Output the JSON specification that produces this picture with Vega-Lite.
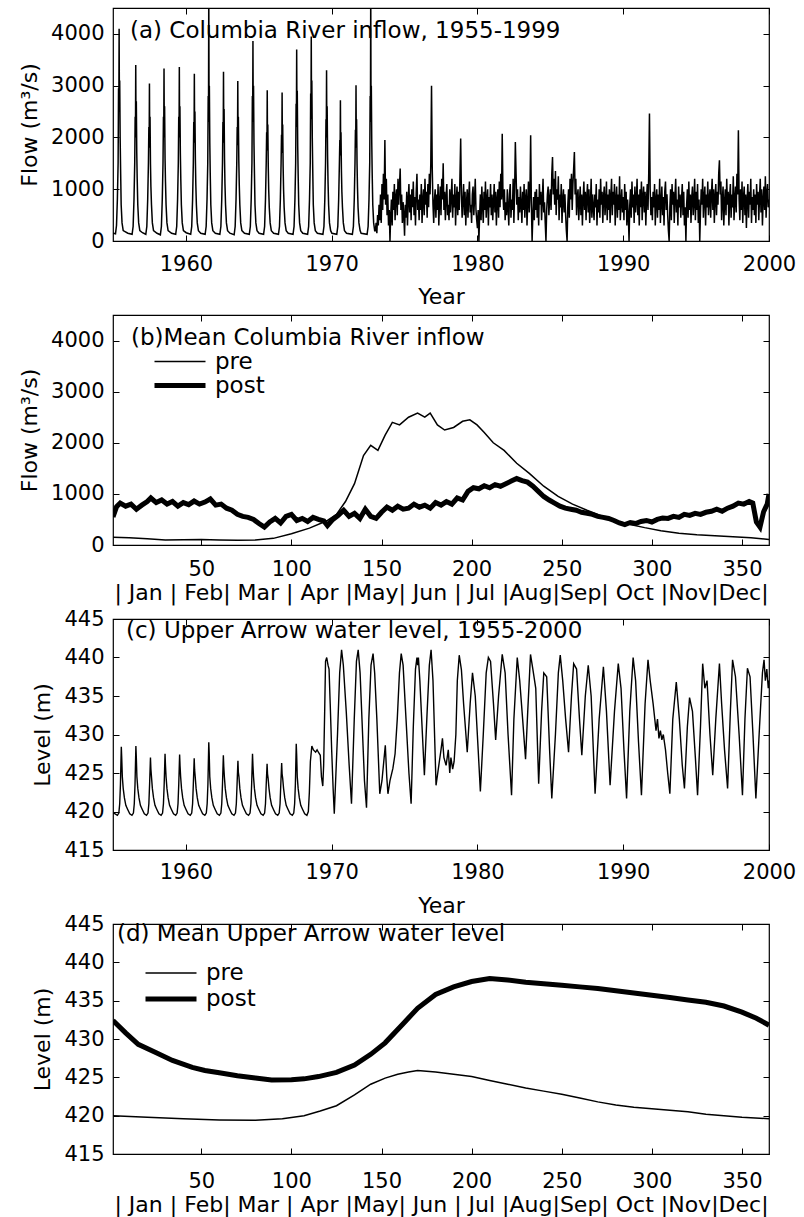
{
"$schema": "https://vega.github.io/schema/vega-lite/v6.json",
"background": "white",
"padding": {"left": 17, "top": 6, "right": 10, "bottom": 5},
"bounds": "flush",
"spacing": 74,
"resolve": {"legend": {"strokeWidth": "independent"}, "scale": {"strokeWidth": "independent"}},
"config": {
  "font": "DejaVu Sans",
  "view": {"stroke": "black", "strokeWidth": 1.2},
  "axis": {"domain": false, "grid": false, "ticks": true, "tickSize": -6, "tickColor": "black", "tickWidth": 1, "labelFont": "DejaVu Sans", "labelFontSize": 21, "labelColor": "black", "labelFlush": false, "labelOverlap": false, "labelBound": false, "titleFont": "DejaVu Sans", "titleFontSize": 22, "titleFontWeight": "normal", "titleColor": "black"},
  "axisY": {"labelPadding": 15, "titlePadding": 9},
  "axisX": {"labelPadding": 21},
  "title": {"anchor": "start", "frame": "group", "font": "DejaVu Sans", "fontSize": 23, "fontWeight": "normal", "color": "black"},
  "legend": {"orient": "none", "title": null, "symbolType": "stroke", "symbolSize": 2601, "symbolStrokeColor": "black", "labelFont": "DejaVu Sans", "labelFontSize": 23, "labelColor": "black", "labelOffset": 7, "padding": 0, "rowPadding": 0}
},
"datasets": {
"a": [
{"t":1955.00,"q":150},{"t":1955.17,"q":140},{"t":1955.24,"q":300},{"t":1955.30,"q":800},{"t":1955.35,"q":1500},{"t":1955.38,"q":2950},{"t":1955.40,"q":2500},{"t":1955.42,"q":4100},{"t":1955.44,"q":2600},{"t":1955.46,"q":3100},{"t":1955.49,"q":2000},{"t":1955.52,"q":1400},{"t":1955.56,"q":700},{"t":1955.62,"q":350},{"t":1955.70,"q":200},
{"t":1956.02,"q":150},{"t":1956.31,"q":130},{"t":1956.38,"q":280},{"t":1956.44,"q":800},{"t":1956.49,"q":1500},{"t":1956.52,"q":2400},{"t":1956.54,"q":2000},{"t":1956.56,"q":3400},{"t":1956.58,"q":2100},{"t":1956.60,"q":2700},{"t":1956.63,"q":1700},{"t":1956.66,"q":1200},{"t":1956.70,"q":700},{"t":1956.76,"q":350},{"t":1956.84,"q":200},
{"t":1957.02,"q":160},{"t":1957.25,"q":130},{"t":1957.32,"q":280},{"t":1957.38,"q":800},{"t":1957.43,"q":1500},{"t":1957.46,"q":2200},{"t":1957.48,"q":1800},{"t":1957.50,"q":3040},{"t":1957.52,"q":1900},{"t":1957.54,"q":2400},{"t":1957.57,"q":1500},{"t":1957.60,"q":1050},{"t":1957.64,"q":700},{"t":1957.70,"q":350},{"t":1957.78,"q":200},
{"t":1958.02,"q":150},{"t":1958.25,"q":120},{"t":1958.32,"q":280},{"t":1958.38,"q":800},{"t":1958.43,"q":1500},{"t":1958.46,"q":2400},{"t":1958.48,"q":2000},{"t":1958.50,"q":3330},{"t":1958.52,"q":2000},{"t":1958.54,"q":2600},{"t":1958.57,"q":1600},{"t":1958.60,"q":1150},{"t":1958.64,"q":700},{"t":1958.70,"q":350},{"t":1958.78,"q":200},
{"t":1959.02,"q":150},{"t":1959.30,"q":130},{"t":1959.37,"q":280},{"t":1959.43,"q":800},{"t":1959.48,"q":1500},{"t":1959.51,"q":2400},{"t":1959.53,"q":2000},{"t":1959.55,"q":3360},{"t":1959.57,"q":2100},{"t":1959.59,"q":2600},{"t":1959.62,"q":1700},{"t":1959.65,"q":1200},{"t":1959.69,"q":700},{"t":1959.75,"q":350},{"t":1959.83,"q":200},
{"t":1960.02,"q":160},{"t":1960.33,"q":130},{"t":1960.40,"q":280},{"t":1960.46,"q":800},{"t":1960.51,"q":1500},{"t":1960.54,"q":2300},{"t":1960.56,"q":1900},{"t":1960.58,"q":3230},{"t":1960.60,"q":2000},{"t":1960.62,"q":2500},{"t":1960.65,"q":1600},{"t":1960.68,"q":1100},{"t":1960.72,"q":700},{"t":1960.78,"q":350},{"t":1960.86,"q":200},
{"t":1961.02,"q":150},{"t":1961.32,"q":130},{"t":1961.39,"q":280},{"t":1961.45,"q":800},{"t":1961.50,"q":1500},{"t":1961.53,"q":2800},{"t":1961.55,"q":2300},{"t":1961.57,"q":4900},{"t":1961.59,"q":2600},{"t":1961.61,"q":3000},{"t":1961.64,"q":1900},{"t":1961.67,"q":1300},{"t":1961.71,"q":700},{"t":1961.77,"q":350},{"t":1961.85,"q":200},
{"t":1962.02,"q":150},{"t":1962.33,"q":130},{"t":1962.40,"q":280},{"t":1962.46,"q":800},{"t":1962.51,"q":1500},{"t":1962.54,"q":2300},{"t":1962.56,"q":1900},{"t":1962.58,"q":3270},{"t":1962.60,"q":2000},{"t":1962.62,"q":2550},{"t":1962.65,"q":1600},{"t":1962.68,"q":1100},{"t":1962.72,"q":700},{"t":1962.78,"q":350},{"t":1962.86,"q":200},
{"t":1963.02,"q":150},{"t":1963.31,"q":120},{"t":1963.38,"q":280},{"t":1963.44,"q":800},{"t":1963.49,"q":1500},{"t":1963.52,"q":2200},{"t":1963.54,"q":1850},{"t":1963.56,"q":3090},{"t":1963.58,"q":1900},{"t":1963.60,"q":2400},{"t":1963.63,"q":1550},{"t":1963.66,"q":1100},{"t":1963.70,"q":700},{"t":1963.76,"q":350},{"t":1963.84,"q":200},
{"t":1964.02,"q":150},{"t":1964.35,"q":130},{"t":1964.42,"q":280},{"t":1964.48,"q":800},{"t":1964.53,"q":1500},{"t":1964.56,"q":2800},{"t":1964.58,"q":2300},{"t":1964.60,"q":3865},{"t":1964.62,"q":2400},{"t":1964.64,"q":3000},{"t":1964.67,"q":1900},{"t":1964.70,"q":1350},{"t":1964.74,"q":700},{"t":1964.80,"q":350},{"t":1964.88,"q":200},
{"t":1965.02,"q":150},{"t":1965.33,"q":130},{"t":1965.40,"q":280},{"t":1965.46,"q":800},{"t":1965.51,"q":1500},{"t":1965.54,"q":2100},{"t":1965.56,"q":1750},{"t":1965.58,"q":2910},{"t":1965.60,"q":1800},{"t":1965.62,"q":2250},{"t":1965.65,"q":1450},{"t":1965.68,"q":1000},{"t":1965.72,"q":650},{"t":1965.78,"q":350},{"t":1965.86,"q":200},
{"t":1966.02,"q":150},{"t":1966.35,"q":130},{"t":1966.42,"q":280},{"t":1966.48,"q":800},{"t":1966.53,"q":1500},{"t":1966.56,"q":2050},{"t":1966.58,"q":1700},{"t":1966.60,"q":2870},{"t":1966.62,"q":1800},{"t":1966.64,"q":2250},{"t":1966.67,"q":1450},{"t":1966.70,"q":1000},{"t":1966.74,"q":650},{"t":1966.80,"q":350},{"t":1966.88,"q":200},
{"t":1967.02,"q":150},{"t":1967.35,"q":130},{"t":1967.42,"q":280},{"t":1967.48,"q":800},{"t":1967.53,"q":1500},{"t":1967.56,"q":2650},{"t":1967.58,"q":2200},{"t":1967.60,"q":3700},{"t":1967.62,"q":2300},{"t":1967.64,"q":2900},{"t":1967.67,"q":1850},{"t":1967.70,"q":1300},{"t":1967.74,"q":700},{"t":1967.80,"q":350},{"t":1967.88,"q":200},
{"t":1968.02,"q":150},{"t":1968.35,"q":130},{"t":1968.42,"q":280},{"t":1968.48,"q":800},{"t":1968.53,"q":1500},{"t":1968.56,"q":2850},{"t":1968.58,"q":2350},{"t":1968.60,"q":3950},{"t":1968.62,"q":2450},{"t":1968.64,"q":3100},{"t":1968.67,"q":2000},{"t":1968.70,"q":1400},{"t":1968.74,"q":700},{"t":1968.80,"q":350},{"t":1968.88,"q":200},
{"t":1969.02,"q":150},{"t":1969.40,"q":130},{"t":1969.47,"q":280},{"t":1969.53,"q":800},{"t":1969.58,"q":1500},{"t":1969.61,"q":2350},{"t":1969.63,"q":2000},{"t":1969.65,"q":3300},{"t":1969.67,"q":2050},{"t":1969.69,"q":2600},{"t":1969.72,"q":1650},{"t":1969.75,"q":1150},{"t":1969.79,"q":700},{"t":1969.85,"q":350},{"t":1969.93,"q":200},
{"t":1970.02,"q":150},{"t":1970.35,"q":130},{"t":1970.42,"q":280},{"t":1970.48,"q":800},{"t":1970.53,"q":1500},{"t":1970.56,"q":1950},{"t":1970.58,"q":1650},{"t":1970.60,"q":2720},{"t":1970.62,"q":1700},{"t":1970.64,"q":2100},{"t":1970.67,"q":1350},{"t":1970.70,"q":950},{"t":1970.74,"q":650},{"t":1970.80,"q":350},{"t":1970.88,"q":200},
{"t":1971.02,"q":150},{"t":1971.42,"q":130},{"t":1971.49,"q":280},{"t":1971.55,"q":800},{"t":1971.60,"q":1500},{"t":1971.63,"q":2150},{"t":1971.65,"q":1800},{"t":1971.67,"q":3010},{"t":1971.69,"q":1850},{"t":1971.71,"q":2350},{"t":1971.74,"q":1500},{"t":1971.77,"q":1050},{"t":1971.81,"q":650},{"t":1971.87,"q":350},{"t":1971.95,"q":200},
{"t":1972.02,"q":150},{"t":1972.43,"q":130},{"t":1972.50,"q":280},{"t":1972.56,"q":800},{"t":1972.61,"q":1500},{"t":1972.64,"q":2800},{"t":1972.66,"q":2300},{"t":1972.68,"q":4900},{"t":1972.70,"q":2600},{"t":1972.72,"q":3000},{"t":1972.75,"q":1900},{"t":1972.78,"q":1300},{"t":1972.82,"q":700},{"t":1972.88,"q":350},{"t":1972.95,"q":200},
{"t":1973.00,"q":200},{"t":1973.05,"q":350},{"t":1973.10,"q":150},{"t":1973.15,"q":500},{"t":1973.20,"q":300},{"t":1973.25,"q":700},{"t":1973.30,"q":400},{"t":1973.35,"q":900},{"t":1973.40,"q":350},{"t":1973.45,"q":1100},{"t":1973.50,"q":600},{"t":1973.55,"q":1300},{"t":1973.60,"q":800},{"t":1973.65,"q":1950},{"t":1973.70,"q":700},{"t":1973.75,"q":1200},{"t":1973.80,"q":500},{"t":1973.85,"q":900},{"t":1973.90,"q":300},{"t":1973.95,"q":600},
{"t":1974.00,"q":0},{"t":1974.05,"q":500},{"t":1974.10,"q":800},{"t":1974.15,"q":300},{"t":1974.20,"q":950},{"t":1974.25,"q":600},{"t":1974.30,"q":1100},{"t":1974.35,"q":400},{"t":1974.40,"q":850},{"t":1974.45,"q":1000},{"t":1974.50,"q":500},{"t":1974.55,"q":1200},{"t":1974.60,"q":700},{"t":1974.65,"q":1050},{"t":1974.70,"q":1400},{"t":1974.75,"q":600},{"t":1974.80,"q":900},{"t":1974.85,"q":350},{"t":1974.90,"q":750},{"t":1974.95,"q":500},
{"t":1975.00,"q":100},{"t":1975.05,"q":700},{"t":1975.10,"q":450},{"t":1975.15,"q":950},{"t":1975.20,"q":300},{"t":1975.25,"q":800},{"t":1975.30,"q":1100},{"t":1975.35,"q":550},{"t":1975.40,"q":900},{"t":1975.45,"q":400},{"t":1975.50,"q":1000},{"t":1975.55,"q":650},{"t":1975.60,"q":1150},{"t":1975.65,"q":500},{"t":1975.70,"q":850},{"t":1975.75,"q":300},{"t":1975.80,"q":950},{"t":1975.85,"q":1300},{"t":1975.90,"q":600},{"t":1975.95,"q":800},
{"t":1976.00,"q":400},{"t":1976.05,"q":900},{"t":1976.10,"q":600},{"t":1976.15,"q":1100},{"t":1976.20,"q":350},{"t":1976.25,"q":800},{"t":1976.30,"q":1000},{"t":1976.35,"q":500},{"t":1976.40,"q":1200},{"t":1976.45,"q":700},{"t":1976.50,"q":950},{"t":1976.55,"q":450},{"t":1976.60,"q":1100},{"t":1976.65,"q":650},{"t":1976.70,"q":1300},{"t":1976.75,"q":900},{"t":1976.80,"q":1500},{"t":1976.85,"q":3000},{"t":1976.90,"q":1400},{"t":1976.95,"q":700},
{"t":1977.00,"q":350},{"t":1977.05,"q":800},{"t":1977.10,"q":1000},{"t":1977.15,"q":450},{"t":1977.20,"q":900},{"t":1977.25,"q":600},{"t":1977.30,"q":1100},{"t":1977.35,"q":300},{"t":1977.40,"q":750},{"t":1977.45,"q":1050},{"t":1977.50,"q":500},{"t":1977.55,"q":1200},{"t":1977.60,"q":800},{"t":1977.65,"q":1500},{"t":1977.70,"q":600},{"t":1977.75,"q":950},{"t":1977.80,"q":400},{"t":1977.85,"q":850},{"t":1977.90,"q":1100},{"t":1977.95,"q":500},
{"t":1978.00,"q":700},{"t":1978.05,"q":400},{"t":1978.10,"q":1000},{"t":1978.15,"q":550},{"t":1978.20,"q":850},{"t":1978.25,"q":1200},{"t":1978.30,"q":450},{"t":1978.35,"q":900},{"t":1978.40,"q":650},{"t":1978.45,"q":1100},{"t":1978.50,"q":300},{"t":1978.55,"q":800},{"t":1978.60,"q":1050},{"t":1978.65,"q":500},{"t":1978.70,"q":950},{"t":1978.75,"q":600},{"t":1978.80,"q":1250},{"t":1978.85,"q":1980},{"t":1978.90,"q":900},{"t":1978.95,"q":450},
{"t":1979.00,"q":800},{"t":1979.05,"q":1100},{"t":1979.10,"q":500},{"t":1979.15,"q":950},{"t":1979.20,"q":300},{"t":1979.25,"q":750},{"t":1979.30,"q":1000},{"t":1979.35,"q":450},{"t":1979.40,"q":850},{"t":1979.45,"q":1150},{"t":1979.50,"q":550},{"t":1979.55,"q":700},{"t":1979.60,"q":350},{"t":1979.65,"q":900},{"t":1979.70,"q":1050},{"t":1979.75,"q":500},{"t":1979.80,"q":800},{"t":1979.85,"q":1200},{"t":1979.90,"q":600},{"t":1979.95,"q":400},
{"t":1980.00,"q":250},{"t":1980.05,"q":600},{"t":1980.10,"q":0},{"t":1980.15,"q":500},{"t":1980.20,"q":900},{"t":1980.25,"q":400},{"t":1980.30,"q":1050},{"t":1980.35,"q":700},{"t":1980.40,"q":350},{"t":1980.45,"q":950},{"t":1980.50,"q":600},{"t":1980.55,"q":1150},{"t":1980.60,"q":450},{"t":1980.65,"q":800},{"t":1980.70,"q":1000},{"t":1980.75,"q":300},{"t":1980.80,"q":850},{"t":1980.85,"q":650},{"t":1980.90,"q":1100},{"t":1980.95,"q":500},
{"t":1981.00,"q":900},{"t":1981.05,"q":400},{"t":1981.10,"q":750},{"t":1981.15,"q":1100},{"t":1981.20,"q":550},{"t":1981.25,"q":950},{"t":1981.30,"q":300},{"t":1981.35,"q":800},{"t":1981.40,"q":1000},{"t":1981.45,"q":450},{"t":1981.50,"q":1150},{"t":1981.55,"q":650},{"t":1981.60,"q":1300},{"t":1981.65,"q":800},{"t":1981.70,"q":2070},{"t":1981.75,"q":900},{"t":1981.80,"q":600},{"t":1981.85,"q":1000},{"t":1981.90,"q":400},{"t":1981.95,"q":750},
{"t":1982.00,"q":500},{"t":1982.05,"q":1000},{"t":1982.10,"q":650},{"t":1982.15,"q":300},{"t":1982.20,"q":900},{"t":1982.25,"q":1100},{"t":1982.30,"q":450},{"t":1982.35,"q":800},{"t":1982.40,"q":600},{"t":1982.45,"q":1200},{"t":1982.50,"q":350},{"t":1982.55,"q":950},{"t":1982.60,"q":1910},{"t":1982.65,"q":1300},{"t":1982.70,"q":700},{"t":1982.75,"q":1000},{"t":1982.80,"q":400},{"t":1982.85,"q":850},{"t":1982.90,"q":550},{"t":1982.95,"q":1050},
{"t":1983.00,"q":700},{"t":1983.05,"q":350},{"t":1983.10,"q":950},{"t":1983.15,"q":600},{"t":1983.20,"q":1100},{"t":1983.25,"q":450},{"t":1983.30,"q":800},{"t":1983.35,"q":1000},{"t":1983.40,"q":300},{"t":1983.45,"q":750},{"t":1983.50,"q":1150},{"t":1983.55,"q":550},{"t":1983.60,"q":900},{"t":1983.65,"q":2040},{"t":1983.70,"q":700},{"t":1983.75,"q":0},{"t":1983.80,"q":500},{"t":1983.85,"q":850},{"t":1983.90,"q":400},{"t":1983.95,"q":950},
{"t":1984.00,"q":600},{"t":1984.05,"q":1000},{"t":1984.10,"q":450},{"t":1984.15,"q":850},{"t":1984.20,"q":300},{"t":1984.25,"q":1100},{"t":1984.30,"q":700},{"t":1984.35,"q":950},{"t":1984.40,"q":400},{"t":1984.45,"q":800},{"t":1984.50,"q":1200},{"t":1984.55,"q":550},{"t":1984.60,"q":750},{"t":1984.65,"q":350},{"t":1984.70,"q":0},{"t":1984.75,"q":600},{"t":1984.80,"q":900},{"t":1984.85,"q":1050},{"t":1984.90,"q":500},{"t":1984.95,"q":800},
{"t":1985.00,"q":1000},{"t":1985.05,"q":600},{"t":1985.10,"q":1300},{"t":1985.15,"q":1620},{"t":1985.20,"q":900},{"t":1985.25,"q":1200},{"t":1985.30,"q":700},{"t":1985.35,"q":1350},{"t":1985.40,"q":500},{"t":1985.45,"q":1000},{"t":1985.50,"q":800},{"t":1985.55,"q":1250},{"t":1985.60,"q":400},{"t":1985.65,"q":900},{"t":1985.70,"q":650},{"t":1985.75,"q":1100},{"t":1985.80,"q":350},{"t":1985.85,"q":800},{"t":1985.90,"q":1000},{"t":1985.95,"q":550},
{"t":1986.00,"q":900},{"t":1986.05,"q":500},{"t":1986.10,"q":200},{"t":1986.15,"q":0},{"t":1986.20,"q":700},{"t":1986.25,"q":1000},{"t":1986.30,"q":450},{"t":1986.35,"q":1200},{"t":1986.40,"q":800},{"t":1986.45,"q":1300},{"t":1986.50,"q":600},{"t":1986.55,"q":1100},{"t":1986.60,"q":1400},{"t":1986.65,"q":1720},{"t":1986.70,"q":900},{"t":1986.75,"q":1200},{"t":1986.80,"q":500},{"t":1986.85,"q":850},{"t":1986.90,"q":1000},{"t":1986.95,"q":400},
{"t":1987.00,"q":750},{"t":1987.05,"q":1050},{"t":1987.10,"q":500},{"t":1987.15,"q":900},{"t":1987.20,"q":300},{"t":1987.25,"q":800},{"t":1987.30,"q":1150},{"t":1987.35,"q":600},{"t":1987.40,"q":950},{"t":1987.45,"q":400},{"t":1987.50,"q":850},{"t":1987.55,"q":1100},{"t":1987.60,"q":550},{"t":1987.65,"q":1000},{"t":1987.70,"q":350},{"t":1987.75,"q":700},{"t":1987.80,"q":1200},{"t":1987.85,"q":450},{"t":1987.90,"q":900},{"t":1987.95,"q":650},
{"t":1988.00,"q":400},{"t":1988.05,"q":900},{"t":1988.10,"q":650},{"t":1988.15,"q":1100},{"t":1988.20,"q":300},{"t":1988.25,"q":800},{"t":1988.30,"q":550},{"t":1988.35,"q":1000},{"t":1988.40,"q":450},{"t":1988.45,"q":1200},{"t":1988.50,"q":700},{"t":1988.55,"q":950},{"t":1988.60,"q":350},{"t":1988.65,"q":850},{"t":1988.70,"q":1050},{"t":1988.75,"q":500},{"t":1988.80,"q":750},{"t":1988.85,"q":1150},{"t":1988.90,"q":400},{"t":1988.95,"q":900},
{"t":1989.00,"q":600},{"t":1989.05,"q":1000},{"t":1989.10,"q":350},{"t":1989.15,"q":850},{"t":1989.20,"q":1200},{"t":1989.25,"q":500},{"t":1989.30,"q":950},{"t":1989.35,"q":700},{"t":1989.40,"q":1100},{"t":1989.45,"q":300},{"t":1989.50,"q":800},{"t":1989.55,"q":1050},{"t":1989.60,"q":450},{"t":1989.65,"q":900},{"t":1989.70,"q":600},{"t":1989.75,"q":1250},{"t":1989.80,"q":400},{"t":1989.85,"q":750},{"t":1989.90,"q":1000},{"t":1989.95,"q":550},
{"t":1990.00,"q":850},{"t":1990.05,"q":400},{"t":1990.10,"q":1100},{"t":1990.15,"q":600},{"t":1990.20,"q":950},{"t":1990.25,"q":300},{"t":1990.30,"q":800},{"t":1990.35,"q":500},{"t":1990.40,"q":0},{"t":1990.45,"q":700},{"t":1990.50,"q":1000},{"t":1990.55,"q":450},{"t":1990.60,"q":1150},{"t":1990.65,"q":650},{"t":1990.70,"q":900},{"t":1990.75,"q":350},{"t":1990.80,"q":1050},{"t":1990.85,"q":550},{"t":1990.90,"q":800},{"t":1990.95,"q":1200},
{"t":1991.00,"q":500},{"t":1991.05,"q":900},{"t":1991.10,"q":300},{"t":1991.15,"q":1000},{"t":1991.20,"q":650},{"t":1991.25,"q":1150},{"t":1991.30,"q":400},{"t":1991.35,"q":850},{"t":1991.40,"q":1050},{"t":1991.45,"q":550},{"t":1991.50,"q":950},{"t":1991.55,"q":300},{"t":1991.60,"q":800},{"t":1991.65,"q":1100},{"t":1991.70,"q":600},{"t":1991.75,"q":1300},{"t":1991.80,"q":2460},{"t":1991.85,"q":1000},{"t":1991.90,"q":500},{"t":1991.95,"q":850},
{"t":1992.00,"q":400},{"t":1992.05,"q":950},{"t":1992.10,"q":650},{"t":1992.15,"q":1100},{"t":1992.20,"q":300},{"t":1992.25,"q":800},{"t":1992.30,"q":1000},{"t":1992.35,"q":450},{"t":1992.40,"q":900},{"t":1992.45,"q":600},{"t":1992.50,"q":1200},{"t":1992.55,"q":350},{"t":1992.60,"q":750},{"t":1992.65,"q":1050},{"t":1992.70,"q":500},{"t":1992.75,"q":850},{"t":1992.80,"q":300},{"t":1992.85,"q":950},{"t":1992.90,"q":1150},{"t":1992.95,"q":600},
{"t":1993.00,"q":900},{"t":1993.05,"q":500},{"t":1993.10,"q":200},{"t":1993.15,"q":0},{"t":1993.20,"q":650},{"t":1993.25,"q":1000},{"t":1993.30,"q":400},{"t":1993.35,"q":1100},{"t":1993.40,"q":700},{"t":1993.45,"q":950},{"t":1993.50,"q":350},{"t":1993.55,"q":850},{"t":1993.60,"q":1200},{"t":1993.65,"q":550},{"t":1993.70,"q":800},{"t":1993.75,"q":300},{"t":1993.80,"q":1050},{"t":1993.85,"q":650},{"t":1993.90,"q":900},{"t":1993.95,"q":450},
{"t":1994.00,"q":800},{"t":1994.05,"q":1100},{"t":1994.10,"q":500},{"t":1994.15,"q":950},{"t":1994.20,"q":300},{"t":1994.25,"q":650},{"t":1994.30,"q":0},{"t":1994.35,"q":700},{"t":1994.40,"q":1000},{"t":1994.45,"q":450},{"t":1994.50,"q":1150},{"t":1994.55,"q":600},{"t":1994.60,"q":900},{"t":1994.65,"q":350},{"t":1994.70,"q":850},{"t":1994.75,"q":1050},{"t":1994.80,"q":500},{"t":1994.85,"q":750},{"t":1994.90,"q":1200},{"t":1994.95,"q":400},
{"t":1995.00,"q":950},{"t":1995.05,"q":600},{"t":1995.10,"q":1100},{"t":1995.15,"q":350},{"t":1995.20,"q":800},{"t":1995.25,"q":0},{"t":1995.30,"q":550},{"t":1995.35,"q":1000},{"t":1995.40,"q":700},{"t":1995.45,"q":1200},{"t":1995.50,"q":450},{"t":1995.55,"q":850},{"t":1995.60,"q":1050},{"t":1995.65,"q":300},{"t":1995.70,"q":900},{"t":1995.75,"q":650},{"t":1995.80,"q":1150},{"t":1995.85,"q":500},{"t":1995.90,"q":800},{"t":1995.95,"q":1000},
{"t":1996.00,"q":450},{"t":1996.05,"q":900},{"t":1996.10,"q":1200},{"t":1996.15,"q":600},{"t":1996.20,"q":1000},{"t":1996.25,"q":350},{"t":1996.30,"q":850},{"t":1996.35,"q":1100},{"t":1996.40,"q":500},{"t":1996.45,"q":950},{"t":1996.50,"q":700},{"t":1996.55,"q":1300},{"t":1996.60,"q":1560},{"t":1996.65,"q":900},{"t":1996.70,"q":1150},{"t":1996.75,"q":400},{"t":1996.80,"q":800},{"t":1996.85,"q":1050},{"t":1996.90,"q":300},{"t":1996.95,"q":750},
{"t":1997.00,"q":1000},{"t":1997.05,"q":500},{"t":1997.10,"q":1200},{"t":1997.15,"q":700},{"t":1997.20,"q":950},{"t":1997.25,"q":300},{"t":1997.30,"q":850},{"t":1997.35,"q":1100},{"t":1997.40,"q":450},{"t":1997.45,"q":900},{"t":1997.50,"q":650},{"t":1997.55,"q":1250},{"t":1997.60,"q":400},{"t":1997.65,"q":800},{"t":1997.70,"q":1050},{"t":1997.75,"q":550},{"t":1997.80,"q":1300},{"t":1997.85,"q":900},{"t":1997.90,"q":2140},{"t":1997.95,"q":800},
{"t":1998.00,"q":400},{"t":1998.05,"q":1000},{"t":1998.10,"q":600},{"t":1998.15,"q":1150},{"t":1998.20,"q":350},{"t":1998.25,"q":850},{"t":1998.30,"q":1050},{"t":1998.35,"q":500},{"t":1998.40,"q":900},{"t":1998.45,"q":250},{"t":1998.50,"q":800},{"t":1998.55,"q":1100},{"t":1998.60,"q":450},{"t":1998.65,"q":950},{"t":1998.70,"q":700},{"t":1998.75,"q":1200},{"t":1998.80,"q":350},{"t":1998.85,"q":850},{"t":1998.90,"q":600},{"t":1998.95,"q":1000},
{"t":1999.00,"q":500},{"t":1999.05,"q":900},{"t":1999.10,"q":350},{"t":1999.15,"q":1100},{"t":1999.20,"q":700},{"t":1999.25,"q":950},{"t":1999.30,"q":400},{"t":1999.35,"q":850},{"t":1999.40,"q":1200},{"t":1999.45,"q":550},{"t":1999.50,"q":1000},{"t":1999.55,"q":300},{"t":1999.60,"q":800},{"t":1999.65,"q":1050},{"t":1999.70,"q":600},{"t":1999.75,"q":1250},{"t":1999.80,"q":450},{"t":1999.85,"q":900},{"t":1999.90,"q":1100},{"t":1999.95,"q":650},
{"t":2000.00,"q":800}
],
"b": [
{"d":1,"q":150,"s":"pre"},{"d":10,"q":140,"s":"pre"},{"d":20,"q":120,"s":"pre"},{"d":30,"q":100,"s":"pre"},{"d":40,"q":105,"s":"pre"},{"d":50,"q":110,"s":"pre"},{"d":60,"q":100,"s":"pre"},{"d":70,"q":95,"s":"pre"},{"d":80,"q":100,"s":"pre"},{"d":90,"q":130,"s":"pre"},{"d":100,"q":220,"s":"pre"},{"d":110,"q":330,"s":"pre"},{"d":120,"q":480,"s":"pre"},{"d":125,"q":600,"s":"pre"},{"d":130,"q":850,"s":"pre"},{"d":135,"q":1200,"s":"pre"},{"d":140,"q":1750,"s":"pre"},{"d":144,"q":1950,"s":"pre"},{"d":148,"q":1850,"s":"pre"},{"d":152,"q":2150,"s":"pre"},{"d":156,"q":2400,"s":"pre"},{"d":160,"q":2350,"s":"pre"},{"d":165,"q":2500,"s":"pre"},{"d":170,"q":2580,"s":"pre"},{"d":174,"q":2500,"s":"pre"},{"d":177,"q":2580,"s":"pre"},{"d":181,"q":2350,"s":"pre"},{"d":185,"q":2250,"s":"pre"},{"d":190,"q":2300,"s":"pre"},{"d":195,"q":2420,"s":"pre"},{"d":199,"q":2450,"s":"pre"},{"d":203,"q":2350,"s":"pre"},{"d":207,"q":2200,"s":"pre"},{"d":212,"q":2000,"s":"pre"},{"d":218,"q":1850,"s":"pre"},{"d":225,"q":1600,"s":"pre"},{"d":232,"q":1400,"s":"pre"},{"d":240,"q":1150,"s":"pre"},{"d":248,"q":950,"s":"pre"},{"d":256,"q":800,"s":"pre"},{"d":264,"q":680,"s":"pre"},{"d":272,"q":570,"s":"pre"},{"d":280,"q":470,"s":"pre"},{"d":288,"q":400,"s":"pre"},{"d":296,"q":340,"s":"pre"},{"d":305,"q":280,"s":"pre"},{"d":315,"q":230,"s":"pre"},{"d":325,"q":200,"s":"pre"},{"d":335,"q":180,"s":"pre"},{"d":345,"q":160,"s":"pre"},{"d":355,"q":140,"s":"pre"},{"d":365,"q":110,"s":"pre"},
{"d":1,"q":550,"s":"post"},{"d":3,"q":750,"s":"post"},{"d":5,"q":820,"s":"post"},{"d":8,"q":760,"s":"post"},{"d":11,"q":800,"s":"post"},{"d":14,"q":700,"s":"post"},{"d":17,"q":780,"s":"post"},{"d":20,"q":850,"s":"post"},{"d":22,"q":920,"s":"post"},{"d":25,"q":830,"s":"post"},{"d":28,"q":880,"s":"post"},{"d":31,"q":800,"s":"post"},{"d":34,"q":850,"s":"post"},{"d":37,"q":760,"s":"post"},{"d":40,"q":830,"s":"post"},{"d":43,"q":790,"s":"post"},{"d":46,"q":860,"s":"post"},{"d":49,"q":800,"s":"post"},{"d":52,"q":840,"s":"post"},{"d":55,"q":900,"s":"post"},{"d":58,"q":780,"s":"post"},{"d":61,"q":800,"s":"post"},{"d":64,"q":720,"s":"post"},{"d":67,"q":680,"s":"post"},{"d":70,"q":600,"s":"post"},{"d":73,"q":560,"s":"post"},{"d":76,"q":540,"s":"post"},{"d":79,"q":500,"s":"post"},{"d":82,"q":420,"s":"post"},{"d":85,"q":350,"s":"post"},{"d":88,"q":450,"s":"post"},{"d":91,"q":520,"s":"post"},{"d":94,"q":430,"s":"post"},{"d":97,"q":560,"s":"post"},{"d":100,"q":600,"s":"post"},{"d":103,"q":480,"s":"post"},{"d":106,"q":520,"s":"post"},{"d":109,"q":460,"s":"post"},{"d":112,"q":540,"s":"post"},{"d":115,"q":500,"s":"post"},{"d":118,"q":470,"s":"post"},{"d":120,"q":380,"s":"post"},{"d":123,"q":500,"s":"post"},{"d":126,"q":580,"s":"post"},{"d":129,"q":680,"s":"post"},{"d":132,"q":560,"s":"post"},{"d":135,"q":620,"s":"post"},{"d":138,"q":520,"s":"post"},{"d":141,"q":700,"s":"post"},{"d":144,"q":560,"s":"post"},{"d":147,"q":520,"s":"post"},{"d":150,"q":640,"s":"post"},{"d":153,"q":740,"s":"post"},{"d":156,"q":680,"s":"post"},{"d":159,"q":760,"s":"post"},{"d":162,"q":700,"s":"post"},{"d":165,"q":720,"s":"post"},{"d":168,"q":800,"s":"post"},{"d":171,"q":740,"s":"post"},{"d":174,"q":780,"s":"post"},{"d":177,"q":720,"s":"post"},{"d":180,"q":830,"s":"post"},{"d":183,"q":780,"s":"post"},{"d":186,"q":850,"s":"post"},{"d":189,"q":800,"s":"post"},{"d":192,"q":920,"s":"post"},{"d":195,"q":880,"s":"post"},{"d":198,"q":1050,"s":"post"},{"d":201,"q":1120,"s":"post"},{"d":204,"q":1100,"s":"post"},{"d":207,"q":1160,"s":"post"},{"d":210,"q":1120,"s":"post"},{"d":213,"q":1180,"s":"post"},{"d":216,"q":1150,"s":"post"},{"d":219,"q":1200,"s":"post"},{"d":222,"q":1250,"s":"post"},{"d":225,"q":1300,"s":"post"},{"d":228,"q":1260,"s":"post"},{"d":231,"q":1230,"s":"post"},{"d":234,"q":1150,"s":"post"},{"d":237,"q":1050,"s":"post"},{"d":240,"q":950,"s":"post"},{"d":243,"q":880,"s":"post"},{"d":246,"q":820,"s":"post"},{"d":249,"q":760,"s":"post"},{"d":252,"q":720,"s":"post"},{"d":255,"q":700,"s":"post"},{"d":258,"q":680,"s":"post"},{"d":261,"q":640,"s":"post"},{"d":264,"q":620,"s":"post"},{"d":267,"q":600,"s":"post"},{"d":270,"q":560,"s":"post"},{"d":273,"q":540,"s":"post"},{"d":276,"q":520,"s":"post"},{"d":279,"q":480,"s":"post"},{"d":282,"q":430,"s":"post"},{"d":285,"q":400,"s":"post"},{"d":288,"q":440,"s":"post"},{"d":291,"q":420,"s":"post"},{"d":294,"q":460,"s":"post"},{"d":297,"q":480,"s":"post"},{"d":300,"q":450,"s":"post"},{"d":303,"q":500,"s":"post"},{"d":306,"q":530,"s":"post"},{"d":309,"q":520,"s":"post"},{"d":312,"q":560,"s":"post"},{"d":315,"q":540,"s":"post"},{"d":318,"q":600,"s":"post"},{"d":321,"q":580,"s":"post"},{"d":324,"q":620,"s":"post"},{"d":327,"q":600,"s":"post"},{"d":330,"q":640,"s":"post"},{"d":333,"q":660,"s":"post"},{"d":336,"q":700,"s":"post"},{"d":339,"q":660,"s":"post"},{"d":342,"q":720,"s":"post"},{"d":345,"q":760,"s":"post"},{"d":348,"q":820,"s":"post"},{"d":351,"q":800,"s":"post"},{"d":354,"q":850,"s":"post"},{"d":356,"q":820,"s":"post"},{"d":358,"q":450,"s":"post"},{"d":360,"q":350,"s":"post"},{"d":362,"q":650,"s":"post"},{"d":364,"q":800,"s":"post"},{"d":365,"q":1000,"s":"post"}
],
"c": [
{"t":1955.00,"l":419.8},{"t":1955.15,"l":419.7},{"t":1955.30,"l":419.5},{"t":1955.40,"l":419.8},{"t":1955.46,"l":421.0},{"t":1955.51,"l":423.5},{"t":1955.57,"l":428.4},{"t":1955.60,"l":426.9},{"t":1955.64,"l":424.5},{"t":1955.70,"l":423.0},{"t":1955.78,"l":421.8},{"t":1955.88,"l":420.8},
{"t":1956.00,"l":420.3},{"t":1956.15,"l":419.7},{"t":1956.30,"l":419.5},{"t":1956.40,"l":419.8},{"t":1956.46,"l":421.0},{"t":1956.51,"l":423.5},{"t":1956.57,"l":428.5},{"t":1956.60,"l":427.0},{"t":1956.64,"l":424.5},{"t":1956.70,"l":423.0},{"t":1956.78,"l":421.8},{"t":1956.88,"l":420.8},
{"t":1957.00,"l":420.3},{"t":1957.15,"l":419.7},{"t":1957.30,"l":419.5},{"t":1957.40,"l":419.8},{"t":1957.46,"l":421.0},{"t":1957.51,"l":423.5},{"t":1957.57,"l":427.0},{"t":1957.60,"l":425.5},{"t":1957.64,"l":424.5},{"t":1957.70,"l":423.0},{"t":1957.78,"l":421.8},{"t":1957.88,"l":420.8},
{"t":1958.00,"l":420.3},{"t":1958.15,"l":419.7},{"t":1958.30,"l":419.5},{"t":1958.40,"l":419.8},{"t":1958.46,"l":421.0},{"t":1958.51,"l":423.5},{"t":1958.57,"l":427.5},{"t":1958.60,"l":426.0},{"t":1958.64,"l":424.5},{"t":1958.70,"l":423.0},{"t":1958.78,"l":421.8},{"t":1958.88,"l":420.8},
{"t":1959.00,"l":420.3},{"t":1959.15,"l":419.7},{"t":1959.30,"l":419.5},{"t":1959.40,"l":419.8},{"t":1959.46,"l":421.0},{"t":1959.51,"l":423.5},{"t":1959.57,"l":427.4},{"t":1959.60,"l":425.9},{"t":1959.64,"l":424.5},{"t":1959.70,"l":423.0},{"t":1959.78,"l":421.8},{"t":1959.88,"l":420.8},
{"t":1960.00,"l":420.3},{"t":1960.15,"l":419.7},{"t":1960.30,"l":419.5},{"t":1960.40,"l":419.8},{"t":1960.46,"l":421.0},{"t":1960.51,"l":423.5},{"t":1960.57,"l":426.9},{"t":1960.60,"l":425.4},{"t":1960.64,"l":424.5},{"t":1960.70,"l":423.0},{"t":1960.78,"l":421.8},{"t":1960.88,"l":420.8},
{"t":1961.00,"l":420.3},{"t":1961.15,"l":419.7},{"t":1961.30,"l":419.5},{"t":1961.40,"l":419.8},{"t":1961.46,"l":421.0},{"t":1961.51,"l":423.5},{"t":1961.57,"l":429.0},{"t":1961.60,"l":427.5},{"t":1961.64,"l":424.5},{"t":1961.70,"l":423.0},{"t":1961.78,"l":421.8},{"t":1961.88,"l":420.8},
{"t":1962.00,"l":420.3},{"t":1962.15,"l":419.7},{"t":1962.30,"l":419.5},{"t":1962.40,"l":419.8},{"t":1962.46,"l":421.0},{"t":1962.51,"l":423.5},{"t":1962.57,"l":427.3},{"t":1962.60,"l":425.8},{"t":1962.64,"l":424.5},{"t":1962.70,"l":423.0},{"t":1962.78,"l":421.8},{"t":1962.88,"l":420.8},
{"t":1963.00,"l":420.3},{"t":1963.15,"l":419.7},{"t":1963.30,"l":419.5},{"t":1963.40,"l":419.8},{"t":1963.46,"l":421.0},{"t":1963.51,"l":423.5},{"t":1963.57,"l":426.6},{"t":1963.60,"l":425.1},{"t":1963.64,"l":424.5},{"t":1963.70,"l":423.0},{"t":1963.78,"l":421.8},{"t":1963.88,"l":420.8},
{"t":1964.00,"l":420.3},{"t":1964.15,"l":419.7},{"t":1964.30,"l":419.5},{"t":1964.40,"l":419.8},{"t":1964.46,"l":421.0},{"t":1964.51,"l":423.5},{"t":1964.57,"l":427.5},{"t":1964.60,"l":426.0},{"t":1964.64,"l":424.5},{"t":1964.70,"l":423.0},{"t":1964.78,"l":421.8},{"t":1964.88,"l":420.8},
{"t":1965.00,"l":420.3},{"t":1965.15,"l":419.7},{"t":1965.30,"l":419.5},{"t":1965.40,"l":419.8},{"t":1965.46,"l":421.0},{"t":1965.51,"l":423.5},{"t":1965.57,"l":426.2},{"t":1965.60,"l":424.9},{"t":1965.64,"l":424.3},{"t":1965.70,"l":423.0},{"t":1965.78,"l":421.8},{"t":1965.88,"l":420.8},
{"t":1966.00,"l":420.3},{"t":1966.15,"l":419.7},{"t":1966.30,"l":419.5},{"t":1966.40,"l":419.8},{"t":1966.46,"l":421.0},{"t":1966.51,"l":423.5},{"t":1966.57,"l":426.3},{"t":1966.60,"l":424.9},{"t":1966.64,"l":424.3},{"t":1966.70,"l":423.0},{"t":1966.78,"l":421.8},{"t":1966.88,"l":420.8},
{"t":1967.00,"l":420.3},{"t":1967.15,"l":419.7},{"t":1967.30,"l":419.5},{"t":1967.40,"l":419.8},{"t":1967.46,"l":421.0},{"t":1967.51,"l":423.5},{"t":1967.57,"l":428.8},{"t":1967.60,"l":427.3},{"t":1967.64,"l":424.5},{"t":1967.70,"l":423.0},{"t":1967.78,"l":421.8},{"t":1967.88,"l":420.8},
{"t":1968.00,"l":420.3},{"t":1968.15,"l":419.7},{"t":1968.30,"l":419.5},{"t":1968.40,"l":420.0},{"t":1968.47,"l":422.5},{"t":1968.54,"l":426.5},{"t":1968.64,"l":428.5},{"t":1968.75,"l":428.0},{"t":1968.90,"l":427.7},{"t":1969.00,"l":428.0},{"t":1969.12,"l":427.6},{"t":1969.22,"l":427.3},{"t":1969.30,"l":424.5},{"t":1969.39,"l":423.3},{"t":1969.45,"l":426.0},{"t":1969.52,"l":433.0},{"t":1969.58,"l":439.5},{"t":1969.66,"l":440.0},{"t":1969.75,"l":439.0},{"t":1969.82,"l":438.5},{"t":1969.90,"l":434.0},{"t":1970.00,"l":428.0},{"t":1970.10,"l":423.0},{"t":1970.18,"l":419.7},
{"t":1970.40,"l":430.0},{"t":1970.55,"l":438.0},{"t":1970.68,"l":441.0},{"t":1970.80,"l":439.0},{"t":1971.00,"l":433.0},{"t":1971.20,"l":426.0},{"t":1971.36,"l":421.0},{"t":1971.55,"l":432.0},{"t":1971.70,"l":439.5},{"t":1971.82,"l":441.0},{"t":1971.95,"l":438.0},{"t":1972.10,"l":431.0},{"t":1972.25,"l":424.0},{"t":1972.39,"l":420.5},{"t":1972.55,"l":432.0},{"t":1972.70,"l":439.0},{"t":1972.84,"l":440.5},{"t":1972.95,"l":438.0},{"t":1973.10,"l":432.0},{"t":1973.30,"l":422.3},{"t":1973.45,"l":424.0},{"t":1973.60,"l":427.0},{"t":1973.68,"l":428.6},{"t":1973.78,"l":424.5},{"t":1973.86,"l":422.3},{"t":1974.00,"l":424.0},{"t":1974.20,"l":425.6},{"t":1974.35,"l":427.5},{"t":1974.50,"l":432.0},{"t":1974.65,"l":438.0},{"t":1974.77,"l":440.5},{"t":1974.90,"l":439.0},{"t":1975.10,"l":432.0},{"t":1975.30,"l":425.0},{"t":1975.45,"l":421.0},{"t":1975.60,"l":431.0},{"t":1975.75,"l":438.5},{"t":1975.85,"l":440.0},{"t":1975.90,"l":439.0},{"t":1975.95,"l":440.0},{"t":1976.05,"l":437.0},{"t":1976.15,"l":433.0},{"t":1976.36,"l":424.7},{"t":1976.55,"l":433.0},{"t":1976.70,"l":439.0},{"t":1976.82,"l":441.0},{"t":1976.95,"l":437.0},{"t":1977.16,"l":423.4},{"t":1977.35,"l":426.0},{"t":1977.50,"l":428.0},{"t":1977.60,"l":429.5},{"t":1977.70,"l":427.0},{"t":1977.85,"l":426.0},{"t":1978.00,"l":428.0},{"t":1978.10,"l":425.0},{"t":1978.18,"l":427.0},{"t":1978.30,"l":425.5},{"t":1978.40,"l":426.5},{"t":1978.52,"l":430.0},{"t":1978.62,"l":437.0},{"t":1978.75,"l":440.3},{"t":1978.90,"l":438.4},{"t":1979.05,"l":434.0},{"t":1979.30,"l":427.7},{"t":1979.50,"l":434.0},{"t":1979.66,"l":438.0},{"t":1979.85,"l":435.0},{"t":1980.05,"l":428.0},{"t":1980.20,"l":422.6},{"t":1980.40,"l":430.0},{"t":1980.60,"l":438.0},{"t":1980.75,"l":440.0},{"t":1980.90,"l":439.5},{"t":1981.10,"l":434.0},{"t":1981.25,"l":429.3},{"t":1981.45,"l":435.0},{"t":1981.70,"l":440.4},{"t":1981.90,"l":438.0},{"t":1982.10,"l":430.0},{"t":1982.34,"l":422.1},{"t":1982.50,"l":432.0},{"t":1982.73,"l":440.0},{"t":1982.90,"l":437.0},{"t":1983.10,"l":432.0},{"t":1983.30,"l":426.8},{"t":1983.45,"l":433.0},{"t":1983.64,"l":440.4},{"t":1983.80,"l":438.5},{"t":1984.00,"l":436.0},{"t":1984.20,"l":423.6},{"t":1984.40,"l":433.0},{"t":1984.55,"l":438.0},{"t":1984.75,"l":437.5},{"t":1984.95,"l":428.0},{"t":1985.10,"l":421.7},{"t":1985.35,"l":430.0},{"t":1985.55,"l":438.0},{"t":1985.68,"l":440.3},{"t":1985.85,"l":437.0},{"t":1986.05,"l":432.0},{"t":1986.25,"l":427.7},{"t":1986.45,"l":435.0},{"t":1986.60,"l":439.2},{"t":1986.80,"l":438.5},{"t":1987.00,"l":432.0},{"t":1987.16,"l":427.3},{"t":1987.40,"l":435.0},{"t":1987.60,"l":439.0},{"t":1987.80,"l":435.0},{"t":1988.07,"l":422.3},{"t":1988.35,"l":432.0},{"t":1988.64,"l":438.8},{"t":1988.85,"l":433.0},{"t":1989.10,"l":423.4},{"t":1989.40,"l":433.0},{"t":1989.66,"l":439.2},{"t":1989.85,"l":436.0},{"t":1990.05,"l":428.0},{"t":1990.23,"l":421.7},{"t":1990.45,"l":433.0},{"t":1990.68,"l":440.0},{"t":1990.85,"l":437.0},{"t":1991.05,"l":429.0},{"t":1991.25,"l":422.1},{"t":1991.50,"l":434.0},{"t":1991.70,"l":439.7},{"t":1991.85,"l":437.0},{"t":1992.05,"l":434.0},{"t":1992.25,"l":430.5},{"t":1992.35,"l":432.0},{"t":1992.45,"l":429.5},{"t":1992.55,"l":430.5},{"t":1992.65,"l":429.3},{"t":1992.75,"l":430.0},{"t":1992.90,"l":428.0},{"t":1993.05,"l":425.0},{"t":1993.20,"l":422.3},{"t":1993.40,"l":432.0},{"t":1993.64,"l":436.8},{"t":1993.85,"l":432.0},{"t":1994.05,"l":426.0},{"t":1994.20,"l":423.0},{"t":1994.40,"l":431.0},{"t":1994.55,"l":434.8},{"t":1994.75,"l":433.0},{"t":1994.95,"l":427.0},{"t":1995.10,"l":422.1},{"t":1995.30,"l":431.0},{"t":1995.45,"l":439.2},{"t":1995.60,"l":436.0},{"t":1995.75,"l":437.0},{"t":1995.95,"l":430.0},{"t":1996.14,"l":424.7},{"t":1996.35,"l":432.0},{"t":1996.60,"l":439.2},{"t":1996.75,"l":434.0},{"t":1996.95,"l":428.0},{"t":1997.16,"l":423.0},{"t":1997.35,"l":433.0},{"t":1997.50,"l":439.7},{"t":1997.70,"l":437.5},{"t":1997.95,"l":430.0},{"t":1998.18,"l":422.1},{"t":1998.35,"l":432.0},{"t":1998.52,"l":438.6},{"t":1998.70,"l":437.5},{"t":1998.90,"l":430.0},{"t":1999.10,"l":421.7},{"t":1999.35,"l":431.0},{"t":1999.55,"l":438.0},{"t":1999.66,"l":439.7},{"t":1999.75,"l":437.0},{"t":1999.85,"l":438.5},{"t":1999.95,"l":436.0},{"t":2000.00,"l":437.0}
],
"d": [
{"d":1,"l":420.0,"s":"pre"},{"d":20,"l":419.8,"s":"pre"},{"d":40,"l":419.6,"s":"pre"},{"d":60,"l":419.45,"s":"pre"},{"d":80,"l":419.4,"s":"pre"},{"d":95,"l":419.6,"s":"pre"},{"d":107,"l":420.0,"s":"pre"},{"d":116,"l":420.6,"s":"pre"},{"d":125,"l":421.3,"s":"pre"},{"d":135,"l":422.7,"s":"pre"},{"d":144,"l":424.1,"s":"pre"},{"d":152,"l":424.9,"s":"pre"},{"d":159,"l":425.4,"s":"pre"},{"d":165,"l":425.7,"s":"pre"},{"d":170,"l":425.9,"s":"pre"},{"d":180,"l":425.7,"s":"pre"},{"d":190,"l":425.4,"s":"pre"},{"d":200,"l":425.1,"s":"pre"},{"d":210,"l":424.6,"s":"pre"},{"d":220,"l":424.1,"s":"pre"},{"d":230,"l":423.6,"s":"pre"},{"d":240,"l":423.2,"s":"pre"},{"d":250,"l":422.8,"s":"pre"},{"d":260,"l":422.3,"s":"pre"},{"d":270,"l":421.8,"s":"pre"},{"d":280,"l":421.4,"s":"pre"},{"d":290,"l":421.1,"s":"pre"},{"d":300,"l":420.9,"s":"pre"},{"d":310,"l":420.7,"s":"pre"},{"d":320,"l":420.5,"s":"pre"},{"d":330,"l":420.2,"s":"pre"},{"d":340,"l":420.0,"s":"pre"},{"d":350,"l":419.8,"s":"pre"},{"d":365,"l":419.6,"s":"pre"},
{"d":1,"l":432.4,"s":"post"},{"d":8,"l":430.8,"s":"post"},{"d":15,"l":429.3,"s":"post"},{"d":25,"l":428.2,"s":"post"},{"d":34,"l":427.2,"s":"post"},{"d":45,"l":426.3,"s":"post"},{"d":52,"l":425.9,"s":"post"},{"d":60,"l":425.6,"s":"post"},{"d":70,"l":425.2,"s":"post"},{"d":80,"l":424.9,"s":"post"},{"d":89,"l":424.65,"s":"post"},{"d":100,"l":424.7,"s":"post"},{"d":107,"l":424.8,"s":"post"},{"d":115,"l":425.1,"s":"post"},{"d":125,"l":425.65,"s":"post"},{"d":135,"l":426.6,"s":"post"},{"d":144,"l":428.0,"s":"post"},{"d":152,"l":429.5,"s":"post"},{"d":162,"l":432.0,"s":"post"},{"d":170,"l":434.0,"s":"post"},{"d":180,"l":435.8,"s":"post"},{"d":190,"l":436.8,"s":"post"},{"d":200,"l":437.5,"s":"post"},{"d":210,"l":437.9,"s":"post"},{"d":220,"l":437.7,"s":"post"},{"d":230,"l":437.4,"s":"post"},{"d":240,"l":437.2,"s":"post"},{"d":250,"l":437.0,"s":"post"},{"d":260,"l":436.8,"s":"post"},{"d":270,"l":436.6,"s":"post"},{"d":280,"l":436.3,"s":"post"},{"d":290,"l":436.0,"s":"post"},{"d":300,"l":435.7,"s":"post"},{"d":310,"l":435.4,"s":"post"},{"d":320,"l":435.1,"s":"post"},{"d":330,"l":434.8,"s":"post"},{"d":340,"l":434.3,"s":"post"},{"d":350,"l":433.5,"s":"post"},{"d":358,"l":432.7,"s":"post"},{"d":365,"l":431.8,"s":"post"}
]
},
"vconcat": [
{
  "width": 656, "height": 233,
  "title": {"text": "(a) Columbia River inflow, 1955-1999", "offset": -35, "dx": 17},
  "data": {"name": "a"},
  "layer": [
    {"mark": {"type": "line", "strokeWidth": 1.5, "color": "black", "clip": true},
     "encoding": {
       "x": {"field": "t", "type": "quantitative", "scale": {"domain": [1955, 2000], "nice": false, "zero": false}, "axis": {"values": [1960, 1970, 1980, 1990, 2000], "format": "d", "title": "Year", "titlePadding": 12, "labelPadding": 18}},
       "y": {"field": "q", "type": "quantitative", "scale": {"domain": [0, 4500], "nice": false}, "axis": {"values": [0, 1000, 2000, 3000, 4000], "format": "d", "title": "Flow (m³/s)"}}}},
    {"mark": {"type": "point", "opacity": 0, "clip": true},
     "encoding": {
       "x": {"field": "t", "type": "quantitative", "axis": {"orient": "top", "values": [1960, 1970, 1980, 1990, 2000], "labels": false, "title": null}},
       "y": {"field": "q", "type": "quantitative", "axis": {"orient": "right", "values": [0, 1000, 2000, 3000, 4000], "labels": false, "title": null}}}}
  ],
  "resolve": {"axis": {"x": "independent", "y": "independent"}}
},
{
  "width": 656, "height": 230,
  "title": {"text": "(b)Mean Columbia River inflow", "offset": -35, "dx": 18},
  "data": {"name": "b"},
  "layer": [
    {"mark": {"type": "line", "color": "black", "clip": true},
     "encoding": {
       "x": {"field": "d", "type": "quantitative", "scale": {"domain": [1, 365], "nice": false, "zero": false}, "axis": {"values": [50, 100, 150, 200, 250, 300, 350], "title": "| Jan | Feb| Mar | Apr |May| Jun | Jul |Aug|Sep| Oct |Nov|Dec|", "titlePadding": 3, "labelPadding": 19.5}},
       "y": {"field": "q", "type": "quantitative", "scale": {"domain": [0, 4500], "nice": false}, "axis": {"values": [0, 1000, 2000, 3000, 4000], "format": "d", "title": "Flow (m³/s)"}},
       "strokeWidth": {"field": "s", "type": "ordinal", "sort": ["pre", "post"], "scale": {"domain": ["pre", "post"], "range": [1.5, 5]}, "legend": {"legendX": 39, "legendY": 36, "clipHeight": 21, "rowPadding": 0}}}},
    {"mark": {"type": "point", "opacity": 0, "clip": true},
     "encoding": {
       "x": {"field": "d", "type": "quantitative", "axis": {"orient": "top", "values": [50, 100, 150, 200, 250, 300, 350], "labels": false, "title": null}},
       "y": {"field": "q", "type": "quantitative", "axis": {"orient": "right", "values": [0, 1000, 2000, 3000, 4000], "labels": false, "title": null}}}}
  ],
  "resolve": {"axis": {"x": "independent", "y": "independent"}}
},
{
  "width": 656, "height": 231,
  "title": {"text": "(c) Upper Arrow water level, 1955-2000", "offset": -35, "dx": 13},
  "data": {"name": "c"},
  "layer": [
    {"mark": {"type": "line", "strokeWidth": 1.4, "color": "black", "clip": true},
     "encoding": {
       "x": {"field": "t", "type": "quantitative", "scale": {"domain": [1955, 2000], "nice": false, "zero": false}, "axis": {"values": [1960, 1970, 1980, 1990, 2000], "format": "d", "title": "Year", "titlePadding": 13, "labelPadding": 17.5}},
       "y": {"field": "l", "type": "quantitative", "scale": {"domain": [415, 445], "nice": false, "zero": false}, "axis": {"values": [415, 420, 425, 430, 435, 440, 445], "title": "Level (m)"}}}},
    {"mark": {"type": "point", "opacity": 0, "clip": true},
     "encoding": {
       "x": {"field": "t", "type": "quantitative", "axis": {"orient": "top", "values": [1960, 1970, 1980, 1990, 2000], "labels": false, "title": null}},
       "y": {"field": "l", "type": "quantitative", "axis": {"orient": "right", "values": [415, 420, 425, 430, 435, 440, 445], "labels": false, "title": null}}}}
  ],
  "resolve": {"axis": {"x": "independent", "y": "independent"}}
},
{
  "width": 656, "height": 230,
  "title": {"text": "(d) Mean Upper Arrow water level", "offset": -33, "dx": 4},
  "data": {"name": "d"},
  "layer": [
    {"mark": {"type": "line", "color": "black", "clip": true},
     "encoding": {
       "x": {"field": "d", "type": "quantitative", "scale": {"domain": [1, 365], "nice": false, "zero": false}, "axis": {"values": [50, 100, 150, 200, 250, 300, 350], "title": "| Jan | Feb| Mar | Apr |May| Jun | Jul |Aug|Sep| Oct |Nov|Dec|", "titlePadding": 3, "labelPadding": 22.5}},
       "y": {"field": "l", "type": "quantitative", "scale": {"domain": [415, 445], "nice": false, "zero": false}, "axis": {"values": [415, 420, 425, 430, 435, 440, 445], "title": "Level (m)"}},
       "strokeWidth": {"field": "s", "type": "ordinal", "sort": ["pre", "post"], "scale": {"domain": ["pre", "post"], "range": [1.5, 5]}, "legend": {"legendX": 30, "legendY": 36, "clipHeight": 26}}}},
    {"mark": {"type": "point", "opacity": 0, "clip": true},
     "encoding": {
       "x": {"field": "d", "type": "quantitative", "axis": {"orient": "top", "values": [50, 100, 150, 200, 250, 300, 350], "labels": false, "title": null}},
       "y": {"field": "l", "type": "quantitative", "axis": {"orient": "right", "values": [415, 420, 425, 430, 435, 440, 445], "labels": false, "title": null}}}}
  ],
  "resolve": {"axis": {"x": "independent", "y": "independent"}}
}
]
}
